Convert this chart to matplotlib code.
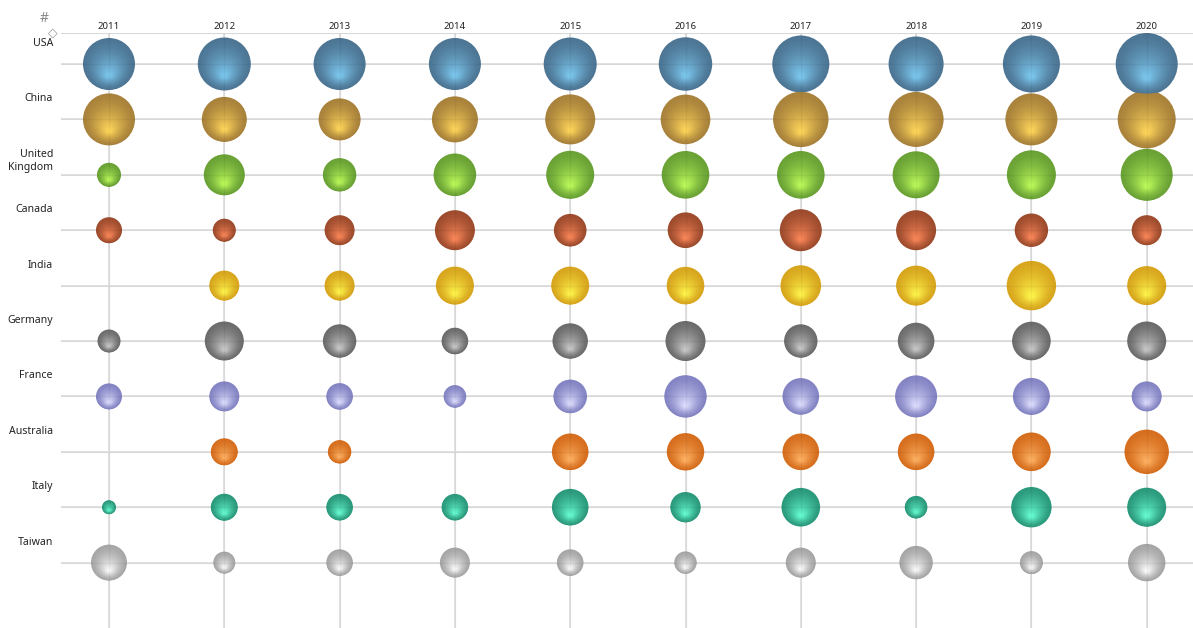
import numpy as np
import matplotlib
matplotlib.use("Agg")
import matplotlib.pyplot as plt
from matplotlib.colors import to_rgb

years = ["2011", "2012", "2013", "2014", "2015", "2016", "2017", "2018", "2019", "2020"]
countries = ["USA", "China", "United\nKingdom", "Canada", "India", "Germany",
             "France", "Australia", "Italy", "Taiwan"]

# bubble sizes (radius), nan = no bubble
usa = [26, 26.5, 26, 26, 26.5, 26.7, 28.5, 27.5, 28.5, 31]
china = [26, 22.5, 21, 23, 25, 24.8, 27.7, 27.5, 26, 29]
uk = [12, 20.5, 16.7, 21.3, 24, 23.8, 23.8, 23.5, 24.5, 26]
canada = [13, 11.5, 15, 20, 16.3, 17.8, 21, 20, 16.7, 15]
india = [np.nan, 15, 15, 19, 19, 18.8, 20.3, 20, 24.7, 19.5]
germany = [11.5, 19.5, 16.7, 13.3, 17.7, 20, 16.7, 18.3, 19.3, 19.5]
france = [13, 15, 13.3, 11.3, 16.8, 21.2, 18.3, 21, 18.5, 15]
australia = [np.nan, 13.5, 11.7, np.nan, 18.3, 18.7, 18.3, 18.3, 19.3, 22.2]
italy = [7, 13.5, 13.3, 13.3, 18.3, 15.2, 19.3, 11.3, 20.2, 19.5]
taiwan = [18, 11, 13.3, 15, 13.3, 11.2, 15, 16.7, 11.5, 18.7]

sizes = [usa, china, uk, canada, india, germany, france, australia, italy, taiwan]

# (edge colour, highlight colour) per country
colors = [
    ("#4d7594", "#7cc8ee"),
    ("#a9823c", "#ffd65a"),
    ("#6aa236", "#bcfa5a"),
    ("#9e4c2e", "#fc885a"),
    ("#d8a61e", "#fff64c"),
    ("#6c6c6c", "#cacaca"),
    ("#8484c4", "#dedeff"),
    ("#d66e1e", "#ffb264"),
    ("#2c9a7c", "#68ffd4"),
    ("#a6a6a6", "#fcfcfc"),
]

W, H, DPI = 1193, 628, 100
fig = plt.figure(figsize=(W / DPI, H / DPI), dpi=DPI)
plt.rcParams['font.family'] = ['Noto Sans', 'DejaVu Sans']

# pixel layout of the grid
x0, dx = 109, 115.3
y0, dy = 64, 55.4
left, top = 61, 33
ax = fig.add_axes([left / W, 0, 1 - left / W, (H - top) / H])
ax.set_xlim((left - x0) / dx, (W - x0) / dx)
ax.set_ylim((H - y0) / dy, (top - y0) / dy)
for s in ax.spines.values():
    s.set_visible(False)
ax.set_xticks([])
ax.set_yticks([])

# grid under the bubbles, plus a very faint copy on top
under = dict(color="#e2e2e2", lw=1.4, zorder=0)
over = dict(color="#000000", lw=1.0, alpha=0.045, zorder=5)
for kw in (under, over):
    ax.axhline((top - y0) / dy, **kw)
    for i in range(len(countries)):
        ax.axhline(i, **kw)
    for j in range(len(years)):
        ax.axvline(j, **kw)

# sphere look: stacked circles shrinking towards a highlight below centre
n_layers = 24
xs = np.arange(len(years))
for i, (vals, (c_edge, c_hi)) in enumerate(zip(sizes, colors)):
    r = np.array(vals, dtype=float)
    ok = ~np.isnan(r)
    e = np.array(to_rgb(c_edge))
    h = np.array(to_rgb(c_hi))
    for k in range(n_layers):
        t = k / n_layers
        rk = r[ok] * (1 - 0.94 * t)
        off = r[ok] * 0.45 * t / dy
        col = e + (h - e) * (t ** 1.4)
        ax.scatter(xs[ok], i + off, s=(2 * rk * 0.72) ** 2, color=col,
                   edgecolors="none", zorder=2 + k * 0.01)

# year labels
for j, yr in enumerate(years):
    ax.text(j, (26 - y0) / dy, yr, ha="center", va="center", fontsize=6.9,
            color="#222222", clip_on=False)

# country labels
for i, c in enumerate(countries):
    fig.text(53 / W, 1 - (i * dy + y0 - 26) / H, c, ha="right", va="top",
             fontsize=7.6, color="#222222", linespacing=1.25)

fig.text(44 / W, 1 - 18 / H, "#", ha="center", va="center", fontsize=10, color="#888888")
fig.text(53 / W, 1 - 33 / H, "\u25C7", ha="center", va="center", fontsize=9,
         color="#999999", family=['DejaVu Sans'])

fig.savefig("out.png", dpi=DPI)
